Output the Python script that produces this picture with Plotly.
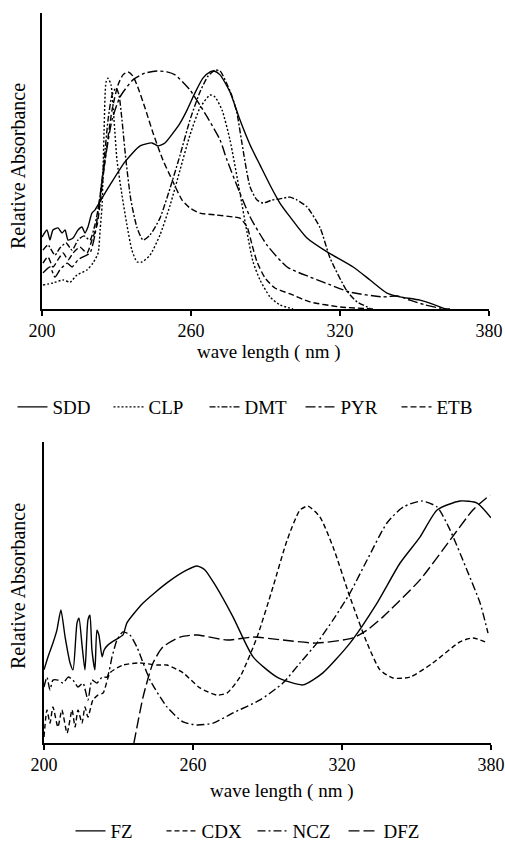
import plotly.graph_objects as go

# ---------------- Top panel data (wavelength nm, relative absorbance) ----------------
sdd_x = [200, 202.0, 203.2, 204.4, 206.4, 208.1, 209.3, 210.5, 212.5, 214.5, 216.1, 217.3, 218.5, 220.1, 221.3, 223.0,
         227.4, 233.4, 239.5, 244.3, 246.7, 249.5, 252.8, 255.6, 258.4, 261.6, 264.8, 267.7, 269.3, 271.7, 275.7,
         279.7, 283.8, 287.8, 291.8, 295.8, 299.9, 306.7, 314.8, 325.3, 332.1, 338.9, 344.2, 352.2, 361.5, 362.3]
sdd_y = [24.3, 26.7, 23.3, 26.7, 27.4, 25.7, 26.7, 23.3, 24.0, 26.7, 27.7, 25.7, 27.7, 32.4, 33.4, 35.8,
         41.9, 49.7, 55.1, 56.1, 55.1, 56.1, 59.5, 62.8, 67.2, 73.0, 78.0, 80.1, 80.4, 79.1, 73.3,
         63.9, 55.4, 48.6, 41.9, 35.8, 31.1, 24.0, 19.3, 14.2, 9.8, 5.4, 4.1, 3.0, 0.3, 0]

clp_x = [200.4, 204.4, 208.5, 211.3, 214.1, 218.1, 220.5, 222.6, 223.4, 224.2, 225.0, 225.8, 226.6, 227.8, 229.0,
         230.2, 232.2, 234.2, 236.2, 238.3, 240.3, 243.5, 247.5, 251.6, 255.6, 259.6, 263.6, 267.7, 269.7, 272.5,
         275.7, 279.7, 282.6, 285.0, 287.8, 291.8, 295.8, 301.1]
clp_y = [8.1, 8.8, 9.8, 9.1, 11.5, 13.2, 15.5, 18.9, 26.7, 35.1, 60.5, 76.7, 78.0, 75.7, 63.9,
         50.3, 38.5, 28.4, 19.9, 15.9, 15.9, 18.2, 25.0, 35.1, 47.0, 58.8, 67.9, 72.3, 71.6, 67.2,
         57.1, 39.2, 25.7, 15.9, 9.8, 4.1, 1.4, 0]

dmt_x = [200.4, 202.4, 205.2, 207.2, 209.7, 212.1, 214.5, 216.9, 219.3, 221.3, 223.0, 225.0, 226.6, 228.2, 229.8,
         231.0, 232.2, 233.8, 235.8, 238.3, 240.7, 243.5, 247.5, 251.6, 255.6, 259.6, 263.6, 266.9, 269.7, 271.7,
         274.1, 276.5, 278.5, 280.5, 283.8, 286.6, 289.0, 292.6, 295.8, 299.9, 302.7, 306.7, 312.0, 316.0, 322.8,
         326.9, 332.1]
dmt_y = [19.9, 21.6, 18.2, 20.6, 22.3, 19.9, 23.3, 24.7, 23.3, 28.4, 35.8, 50.3, 63.9, 72.3, 74.7,
         72.3, 63.9, 50.3, 36.8, 27.4, 23.3, 25.0, 30.7, 40.9, 52.0, 63.9, 73.3, 78.7, 80.7, 80.4,
         76.7, 72.0, 66.2, 56.1, 41.2, 36.8, 35.8, 36.8, 37.2, 37.8, 36.8, 34.5, 27.4, 17.2, 6.1,
         2.4, 0.3]

pyr_x = [200.4, 203.2, 205.2, 207.2, 210.1, 212.1, 214.5, 216.5, 219.3, 221.3, 223.0, 225.4, 228.2, 231.4, 236.6,
         241.5, 246.3, 250.3, 253.6, 259.6, 266.5, 271.7, 274.5, 279.7, 283.8, 290.6, 298.7, 307.9, 313.2, 324.0,
         337.3, 343.0, 348.2, 354.2, 360.3, 364.3]
pyr_y = [12.2, 14.2, 10.8, 13.2, 15.5, 14.2, 16.6, 17.6, 18.9, 25.0, 35.8, 50.3, 63.9, 71.6, 77.4,
         79.7, 80.4, 80.1, 79.1, 74.0, 64.9, 57.1, 50.3, 39.2, 31.1, 21.6, 14.2, 10.8, 9.1, 5.7,
         4.1, 4.4, 3.0, 1.4, 0.3, 0]

etb_x = [200.4, 202.4, 204.4, 206.4, 208.5, 210.5, 212.5, 215.3, 218.1, 220.1, 222.2, 223.4, 225.4, 228.2, 230.6,
         232.6, 234.6, 236.6, 238.7, 241.5, 244.7, 248.7, 252.8, 256.4, 259.6, 263.6, 269.7, 276.9, 279.7, 282.6,
         284.6, 286.6, 289.8, 293.8, 299.9, 307.9, 320.0, 334.1]
etb_y = [15.5, 17.6, 14.2, 16.6, 18.9, 16.6, 18.9, 20.9, 18.9, 23.3, 28.4, 35.8, 50.3, 67.2, 75.7,
         79.1, 80.1, 78.7, 74.7, 67.9, 59.5, 50.3, 42.9, 36.8, 34.1, 32.4, 31.8, 31.1, 30.7, 27.7,
         21.6, 15.9, 10.5, 7.1, 5.1, 2.4, 0.7, 0]

# ---------------- Bottom panel data ----------------
fz_x = [200, 201.6, 203.6, 205.2, 206.8, 208.5, 210.5, 211.7, 213.3, 214.1, 215.3, 216.5, 217.7, 218.5, 219.3,
        220.5, 221.3, 222.1, 223.4, 224.2, 225.8, 228.6, 231.8, 233.4, 239.9, 249.5, 257.6, 261.6, 264.8, 268.9,
        276.1, 284.2, 293.8, 304.3, 312.3, 323.2, 334.1, 343.4, 351.4, 358.3, 367.5, 374.4, 380]
fz_y = [24.3, 28.6, 33.2, 37.5, 44.2, 35.2, 26.6, 24.3, 39.9, 41.5, 32.6, 24.3, 40.9, 42.5, 30.9,
        24.3, 37.5, 35.9, 28.6, 30.9, 32.6, 34.2, 35.9, 39.9, 46.5, 53.2, 57.5, 58.8, 57.5, 52.5,
        41.9, 28.6, 21.9, 19.3, 23.3, 33.2, 46.5, 59.8, 68.4, 77.4, 80.4, 79.7, 74.8]

cdx_x = [200, 201.2, 202.4, 203.6, 205.6, 207.2, 209.3, 211.3, 212.5, 213.7, 215.3, 216.5, 217.7, 219.7, 221.7,
         223.8, 226.6, 231.8, 238.7, 245.5, 249.5, 256.0, 262.8, 269.7, 273.7, 278.9, 285.8, 292.2, 297.9, 303.1,
         306.3, 311.1, 316.4, 323.2, 330.1, 335.3, 340.5, 347.4, 356.6, 367.5, 372.7, 378.8]
cdx_y = [2.0, 11.0, 6.6, 12.0, 5.3, 11.0, 3.3, 11.0, 5.3, 11.0, 6.6, 12.0, 8.6, 14.3, 15.9,
         16.6, 23.3, 25.9, 26.6, 25.9, 25.9, 23.3, 18.3, 15.9, 16.6, 21.9, 35.2, 51.8, 67.4, 77.4,
         78.7, 75.1, 65.1, 48.5, 33.2, 24.3, 21.6, 21.9, 26.6, 33.6, 34.9, 33.2]

ncz_x = [200, 201.2, 202.4, 203.6, 205.6, 207.7, 209.7, 211.7, 213.7, 215.7, 217.7, 219.3, 221.3, 223.4, 225.4,
         227.4, 229.4, 231.8, 234.6, 237.4, 242.7, 249.5, 256.0, 261.6, 268.1, 276.1, 287.0, 296.2, 303.1, 309.9,
         316.4, 323.2, 330.1, 338.1, 344.6, 352.2, 358.3, 363.5, 370.3, 375.6, 378.8]
ncz_y = [18.6, 21.9, 17.6, 20.9, 20.9, 19.9, 21.9, 20.9, 18.6, 19.9, 14.3, 20.9, 19.9, 21.9, 21.9,
         28.6, 34.2, 36.9, 35.9, 31.9, 20.9, 12.0, 7.0, 6.0, 6.6, 10.0, 14.3, 19.9, 26.6, 33.2,
         40.9, 49.8, 60.8, 73.1, 78.4, 80.4, 78.4, 70.8, 57.5, 46.5, 36.5]

dfz_x = [236.2, 236.6, 239.9, 243.9, 247.9, 254.8, 261.6, 273.7, 284.2, 296.2, 309.9, 324.4, 330.1, 336.5, 351.4,
         363.5, 372.7, 379.6]
dfz_y = [0, 1.7, 15.3, 26.6, 31.9, 35.2, 35.9, 34.2, 35.2, 34.2, 33.2, 34.9, 37.5, 41.9, 54.2,
         67.4, 77.4, 82.4]

x_ticks = [200, 260, 320, 380]
x_title = "wave length ( nm )"
y_title = "Relative Absorbance"

FONT = "Liberation Serif"
W, H = 505, 847

fig = go.Figure()

top = [("SDD", sdd_x, sdd_y, "solid"),
       ("CLP", clp_x, clp_y, "2px,2px"),
       ("DMT", dmt_x, dmt_y, "6px,2px,2px,2px"),
       ("PYR", pyr_x, pyr_y, "10px,3px,3px,3px"),
       ("ETB", etb_x, etb_y, "6px,3px")]
bottom = [("FZ", fz_x, fz_y, "solid"),
          ("CDX", cdx_x, cdx_y, "5px,3px"),
          ("NCZ", ncz_x, ncz_y, "8px,3px,2px,3px"),
          ("DFZ", dfz_x, dfz_y, "11px,4px")]

for name, xs, ys, dash in top:
    fig.add_trace(go.Scatter(x=xs, y=ys, mode="lines", name=name, xaxis="x", yaxis="y",
                             line=dict(color="black", width=1.4, dash=dash, shape="spline", smoothing=0.6),
                             legend="legend"))
for name, xs, ys, dash in bottom:
    fig.add_trace(go.Scatter(x=xs, y=ys, mode="lines", name=name, xaxis="x2", yaxis="y2",
                             line=dict(color="black", width=1.4, dash=dash, shape="spline", smoothing=0.6),
                             legend="legend2"))

def xax(domain, anchor):
    return dict(domain=domain, anchor=anchor, range=[200, 380], tickvals=x_ticks, automargin=False,
                ticks="outside", ticklen=5, tickwidth=1.5, tickcolor="black",
                showline=True, linecolor="black", linewidth=1.5, showgrid=False, zeroline=False,
                tickfont=dict(family=FONT, size=18, color="black"))

def yax(domain, anchor):
    return dict(domain=domain, anchor=anchor, range=[0, 100], tickvals=[100], showticklabels=False,
                automargin=False, ticks="inside", ticklen=8, tickwidth=1.5, tickcolor="black",
                showline=True, linecolor="black", linewidth=1.5, showgrid=False, zeroline=False)

top_y = [1 - 309 / H, 1 - 13 / H]
bot_y = [1 - 743 / H, 1 - 442 / H]

def ann(text, x, y, size, angle=0):
    return dict(text=text, textangle=angle, x=x / W, y=1 - y / H, xref="paper", yref="paper",
                xanchor="center", yanchor="middle", showarrow=False,
                font=dict(family=FONT, size=size, color="black"))

fig.update_layout(
    width=W, height=H, margin=dict(l=0, r=0, t=0, b=0, autoexpand=False),
    paper_bgcolor="white", plot_bgcolor="white",
    xaxis=xax([42 / W, 489 / W], "y"),
    yaxis=yax(top_y, "x"),
    xaxis2=xax([44 / W, 491 / W], "y2"),
    yaxis2=yax(bot_y, "x2"),
    font=dict(family=FONT, color="black"),
    legend=dict(orientation="h", x=0.5, xanchor="center", y=1 - 407 / H, yanchor="middle",
                entrywidth=51, entrywidthmode="pixels",
                font=dict(family=FONT, size=19, color="black"), bgcolor="rgba(0,0,0,0)"),
    legend2=dict(orientation="h", x=0.5, xanchor="center", y=1 - 831 / H, yanchor="middle",
                 entrywidth=46, entrywidthmode="pixels",
                 font=dict(family=FONT, size=19, color="black"), bgcolor="rgba(0,0,0,0)"),
    annotations=[
        ann(y_title, 18, 166, 20, -90),
        ann(y_title, 18, 586, 20, -90),
        ann(x_title, 269, 352, 19),
        ann(x_title, 282, 791, 19),
    ],
)

fig.write_html("out.html")
